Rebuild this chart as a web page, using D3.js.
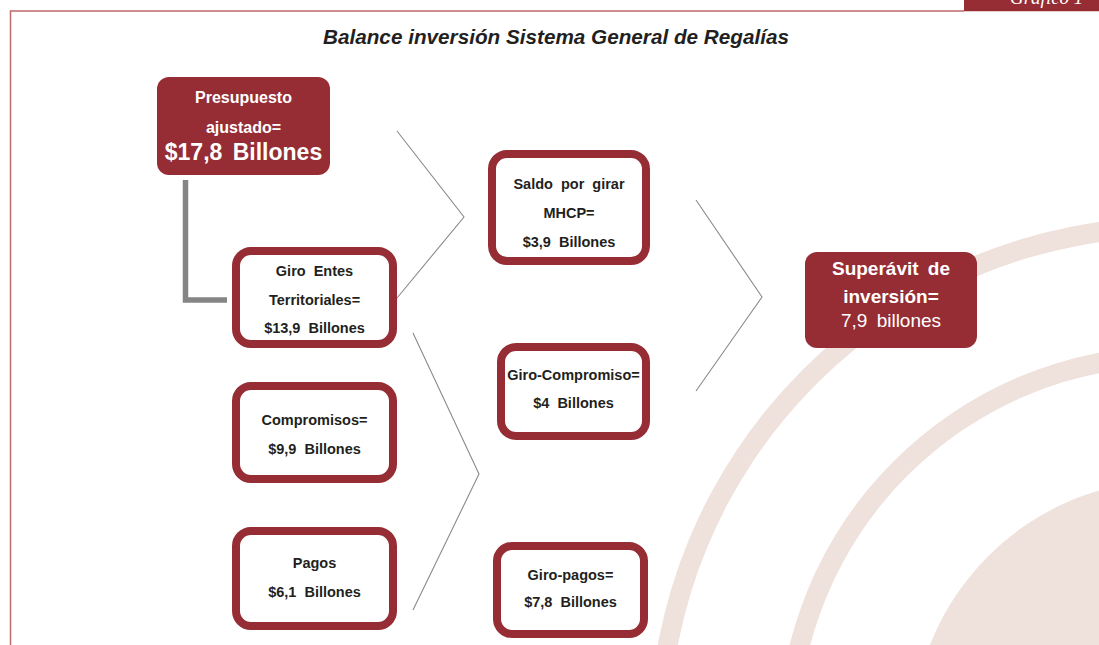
<!DOCTYPE html>
<html>
<head>
<meta charset="utf-8">
<script src="https://cdn.jsdelivr.net/npm/d3@7"></script>
<style>
  body { margin: 0; background: #fff; }
  svg { display: block; }
</style>
</head>
<body>
<script>
// data
var chartTitle = "Balance inversión Sistema General de Regalías";
var tagLabel = "Gráfico 1";
var boxNames = ["presupuesto", "giroEntes", "saldo", "superavit", "giroCompromiso", "compromisos", "pagos", "giroPagos"];
var boxLines = [
  ["Presupuesto", "ajustado=", "$17,8 Billones"],
  ["Giro Entes", "Territoriales=", "$13,9 Billones"],
  ["Saldo por girar", "MHCP=", "$3,9 Billones"],
  ["Superávit de", "inversión=", "7,9 billones"],
  ["Giro-Compromiso=", "$4 Billones"],
  ["Compromisos=", "$9,9 Billones"],
  ["Pagos", "$6,1 Billones"],
  ["Giro-pagos=", "$7,8 Billones"]
];

// layout (pixels)
var width = 1099, height = 645;
var red = "#962d35", ink = "#231f20", pink = "#efe1dc", grey = "#8a8a8a";

var boxLayout = {
  presupuesto:    {x0: 157, y0: 77,  x1: 330, y1: 175, filled: true,  base: [103, 133, 160], size: [16, 16, 23], weight: ["bold", "bold", "bold"]},
  giroEntes:      {x0: 232, y0: 247, x1: 397, y1: 348, filled: false, base: [276, 305, 333]},
  saldo:          {x0: 488, y0: 150, x1: 650, y1: 265, filled: false, base: [189, 218, 247]},
  superavit:      {x0: 805, y0: 252, x1: 977, y1: 348, filled: true,  base: [275, 303, 327], size: [19, 19, 19], weight: ["bold", "bold", "normal"]},
  giroCompromiso: {x0: 497, y0: 343, x1: 650, y1: 440, filled: false, base: [380, 408]},
  compromisos:    {x0: 232, y0: 382, x1: 397, y1: 483, filled: false, base: [425, 454]},
  pagos:          {x0: 232, y0: 527, x1: 397, y1: 630, filled: false, base: [568, 597]},
  giroPagos:      {x0: 493, y0: 542, x1: 648, y1: 638, filled: false, base: [580, 607]}
};

var chevrons = [
  [[397, 131], [464, 217], [397, 298]],
  [[413, 333], [479, 474], [413, 610]],
  [[696, 200], [762, 297], [696, 391]]
];

var svg = d3.select("body").append("svg")
    .attr("width", width)
    .attr("height", height)
    .style("font-family", "'Liberation Sans', Arial, sans-serif");

// background rings
var center = [1172, 740];
var rings = [[503, 523], [374, 394], [0, 260]];
var arc = d3.arc().startAngle(0).endAngle(2 * Math.PI);
svg.append("g")
    .attr("transform", "translate(" + center[0] + "," + center[1] + ")")
  .selectAll("path")
    .data(rings)
  .enter().append("path")
    .attr("d", function(d) { return arc({innerRadius: d[0], outerRadius: d[1]}); })
    .attr("fill", pink);

// frame
svg.append("path")
    .attr("d", d3.line()([[10.5, height], [10.5, 11], [964, 11]]))
    .attr("fill", "none")
    .attr("stroke", "#c0686e")
    .attr("stroke-width", 1.5);

// tag top right
svg.append("clipPath").attr("id", "tagclip")
  .append("rect").attr("x", 964).attr("y", 0).attr("width", width - 964).attr("height", 11.5);
var tag = svg.append("g").attr("clip-path", "url(#tagclip)");
tag.append("rect")
    .attr("x", 964).attr("y", 0)
    .attr("width", width - 964).attr("height", 11.5)
    .attr("fill", red);
tag.append("text")
    .attr("x", 1010).attr("y", 4)
    .attr("fill", "#fff")
    .style("font-family", "'Liberation Serif', serif")
    .style("font-style", "italic")
    .style("font-size", "19px")
    .text(tagLabel);

// title
svg.append("text")
    .attr("x", 556).attr("y", 44)
    .attr("text-anchor", "middle")
    .attr("fill", ink)
    .attr("textLength", 466)
    .attr("lengthAdjust", "spacingAndGlyphs")
    .style("font-size", "21px")
    .style("font-style", "italic")
    .style("font-weight", "bold")
    .text(chartTitle);

// grey connector
svg.append("path")
    .attr("d", d3.line()([[185.5, 180], [185.5, 300], [227, 300]]))
    .attr("fill", "none")
    .attr("stroke", "#858585")
    .attr("stroke-width", 5.5);

// chevrons
svg.selectAll(".chev")
    .data(chevrons)
  .enter().append("path")
    .attr("class", "chev")
    .attr("d", d3.line())
    .attr("fill", "none")
    .attr("stroke", grey)
    .attr("stroke-width", 1.1);

// boxes
var box = svg.selectAll(".box")
    .data(boxNames)
  .enter().append("g")
    .attr("class", "box");

box.append("rect")
    .attr("x", function(d) { var b = boxLayout[d]; return b.filled ? b.x0 : b.x0 + 4; })
    .attr("y", function(d) { var b = boxLayout[d]; return b.filled ? b.y0 : b.y0 + 4; })
    .attr("width", function(d) { var b = boxLayout[d]; return b.filled ? b.x1 - b.x0 : b.x1 - b.x0 - 8; })
    .attr("height", function(d) { var b = boxLayout[d]; return b.filled ? b.y1 - b.y0 : b.y1 - b.y0 - 8; })
    .attr("rx", function(d) { return boxLayout[d].filled ? 12 : 15; })
    .attr("fill", function(d) { return boxLayout[d].filled ? red : "#fff"; })
    .attr("stroke", function(d) { return boxLayout[d].filled ? "none" : red; })
    .attr("stroke-width", 8);

box.each(function(d, i) {
  var b = boxLayout[d];
  var g = d3.select(this);
  var cx = (b.x0 + b.x1) / 2;
  boxLines[i].forEach(function(line, j) {
    g.append("text")
        .attr("x", cx)
        .attr("y", b.base[j])
        .attr("text-anchor", "middle")
        .attr("fill", b.filled ? "#fff" : ink)
        .style("font-size", (b.size ? b.size[j] : 14.5) + "px")
        .style("font-weight", b.weight ? b.weight[j] : "bold")
        .style("word-spacing", "4px")
        .text(line);
  });
});
</script>
</body>
</html>
